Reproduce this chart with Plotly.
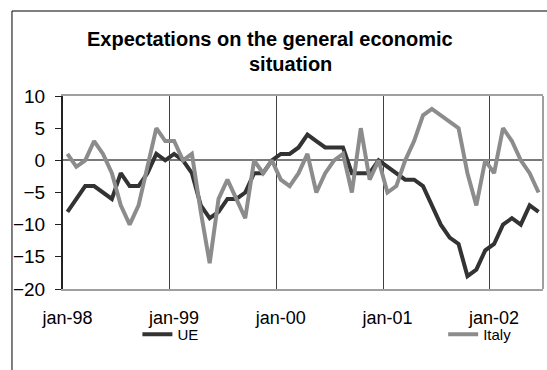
import plotly.graph_objects as go

# ---- data (monthly, jan-98 .. jun-02) ----
years = ["98", "99", "00", "01", "02"]
month_names = ["jan", "feb", "mar", "apr", "may", "jun",
               "jul", "aug", "sep", "oct", "nov", "dec"]
months = [f"{m}-{y}" for y in years for m in month_names][:54]

ue = [-8, -6, -4, -4, -5, -6, -2, -4, -4, -2, 1, 0,
      1, 0, -2, -7, -9, -8, -6, -6, -5, -2, -2, 0,
      1, 1, 2, 4, 3, 2, 2, 2, -2, -2, -2, 0,
      -1, -2, -3, -3, -4, -7, -10, -12, -13, -18, -17, -14,
      -13, -10, -9, -10, -7, -8]

italy = [1, -1, 0, 3, 1, -2, -7, -10, -7, -1, 5, 3,
         3, 0, 1, -8, -16, -6, -3, -6, -9, 0, -2, 0,
         -3, -4, -2, 1, -5, -2, 0, 1, -5, 5, -3, 0,
         -5, -4, 0, 3, 7, 8, 7, 6, 5, -2, -7, 0,
         -2, 5, 3, 0, -2, -5]

tick_labels = ["jan-98", "jan-99", "jan-00", "jan-01", "jan-02"]
title_lines = ["Expectations on the general economic", "situation"]

FONT = "Liberation Sans, Arial, sans-serif"

idx = list(range(len(months)))
tick_idx = [months.index(t) for t in tick_labels]

fig = go.Figure()
fig.add_trace(go.Scatter(x=idx, y=ue, mode="lines", name="UE",
                         line=dict(color="#333333", width=4),
                         text=months, legend="legend"))
fig.add_trace(go.Scatter(x=idx, y=italy, mode="lines", name="Italy",
                         line=dict(color="#8c8c8c", width=4),
                         text=months, legend="legend2"))

fig.update_layout(
    width=547, height=370,
    margin=dict(l=63, r=4, t=96, b=81),
    paper_bgcolor="white", plot_bgcolor="white",
    font=dict(family=FONT, color="black"),
    showlegend=True,
    legend=dict(x=0.155, y=-0.236, xanchor="left", yanchor="middle",
                orientation="h", font=dict(size=15, family=FONT),
                bgcolor="rgba(0,0,0,0)"),
    legend2=dict(x=0.792, y=-0.236, xanchor="left", yanchor="middle",
                 orientation="h", font=dict(size=15, family=FONT),
                 bgcolor="rgba(0,0,0,0)"),
)

fig.update_xaxes(
    range=[-0.5, len(months) - 0.5],
    tickmode="array", tickvals=tick_idx, ticktext=tick_labels,
    ticks="", showgrid=False, zeroline=False,
    showline=True, linecolor="#a0a0a0", linewidth=2, mirror=True,
    tickfont=dict(size=18, family=FONT, color="black"),
    ticklabelstandoff=11,
    minor=dict(tick0=11.5, dtick=12, showgrid=True,
               gridcolor="#404040", gridwidth=1, ticks=""),
)

fig.update_yaxes(
    range=[-20, 10], dtick=5, tick0=0,
    showgrid=False,
    zeroline=True, zerolinecolor="#7a7a7a", zerolinewidth=1.5,
    showline=True, linecolor="#222222", linewidth=2,
    ticks="outside", ticklen=6, tickcolor="#222222", tickwidth=1,
    tickfont=dict(size=19, family=FONT, color="black"),
    ticklabelstandoff=6,
)

# right border of plot area (gray)
fig.add_shape(type="line", xref="x domain", yref="y domain",
              x0=1, x1=1, y0=0, y1=1,
              line=dict(color="#a0a0a0", width=2))

# chart-area border (left and top visible)
fig.add_shape(type="path", xref="paper", yref="paper",
              path="M -0.1063,-0.5 L -0.1063,1.4404 L 1.2,1.4404",
              line=dict(color="black", width=1))

# title lines
fig.add_annotation(text=f"<b>{title_lines[0]}</b>", xref="paper", yref="paper",
                   x=(270 - 63) / 480, y=1 + (96 - 39) / 193,
                   xanchor="center", yanchor="middle", showarrow=False,
                   font=dict(size=20, family=FONT, color="black"))
fig.add_annotation(text=f"<b>{title_lines[1]}</b>", xref="paper", yref="paper",
                   x=(290 - 63) / 480, y=1 + (96 - 64) / 193,
                   xanchor="center", yanchor="middle", showarrow=False,
                   font=dict(size=20, family=FONT, color="black"))

fig.write_html("out.html")
